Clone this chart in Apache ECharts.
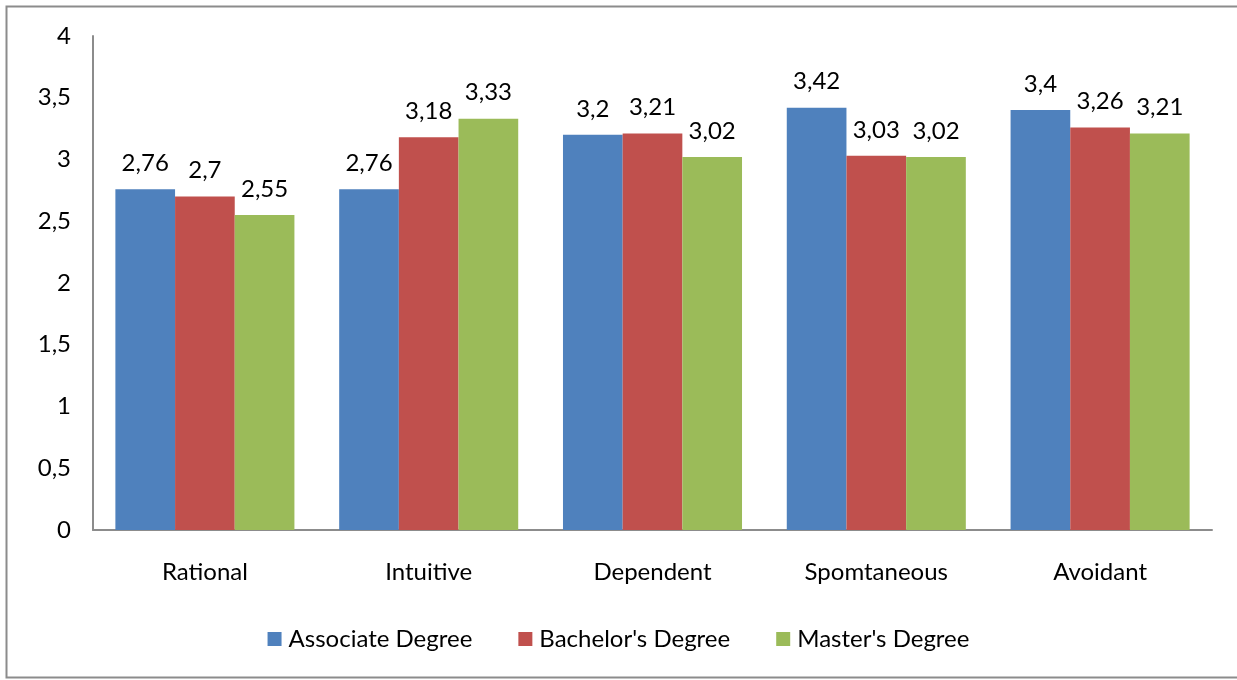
<!DOCTYPE html>
<html>
<head>
<meta charset="utf-8">
<script src="https://cdn.jsdelivr.net/npm/echarts@6/dist/echarts.min.js"></script>
<style>
  html, body { margin: 0; padding: 0; background: #fff; }
  #chart { width: 1237px; height: 680px; }
</style>
</head>
<body>
<div id="chart"></div>
<script>
  const categories = ['Rational', 'Intuitive', 'Dependent', 'Spomtaneous', 'Avoidant'];
  const associate = [2.76, 2.76, 3.2, 3.42, 3.4];
  const bachelor = [2.7, 3.18, 3.21, 3.03, 3.26];
  const master = [2.55, 3.33, 3.02, 3.02, 3.21];
  const seriesNames = ['Associate Degree', "Bachelor's Degree", "Master's Degree"];

  const font = 'Lato';
  const fs = 24;
  const comma = v => String(v).replace('.', ',');

  const myChart = echarts.init(document.getElementById('chart'));

  function makeSeries(name, data, color) {
    return {
      name: name,
      type: 'bar',
      data: data,
      barGap: '0%',
      barCategoryGap: '20%',
      itemStyle: { color: color },
      label: {
        show: true,
        position: 'top',
        distance: 14,
        color: '#000',
        fontFamily: font,
        fontSize: fs,
        formatter: p => comma(p.value)
      }
    };
  }

  myChart.setOption({
    animation: false,
    graphic: [{
      type: 'rect',
      shape: { x: 6.5, y: 6.5, width: 1240, height: 671 },
      style: { fill: 'none', stroke: '#8c8c8c', lineWidth: 2 }
    }],
    grid: { left: 93, right: 25, top: 36, bottom: 150 },
    legend: {
      bottom: 24,
      left: 'center',
      itemWidth: 14,
      itemHeight: 14,
      itemGap: 46,
      icon: 'rect',
      textStyle: { fontFamily: font, fontSize: fs, color: '#000', padding: [0, 0, 0, 2] },
      data: seriesNames
    },
    xAxis: {
      type: 'category',
      data: categories,
      axisLine: { lineStyle: { color: '#8c8c8c', width: 2 } },
      axisTick: { show: false },
      axisLabel: { margin: 30, color: '#000', fontFamily: font, fontSize: fs }
    },
    yAxis: {
      type: 'value',
      min: 0,
      max: 4,
      interval: 0.5,
      splitLine: { show: false },
      axisLine: { show: true, lineStyle: { color: '#8c8c8c', width: 2 } },
      axisTick: { show: false },
      axisLabel: {
        margin: 22,
        color: '#000',
        fontFamily: font,
        fontSize: fs,
        formatter: v => comma(v)
      }
    },
    series: [
      makeSeries(seriesNames[0], associate, '#4F81BD'),
      makeSeries(seriesNames[1], bachelor, '#C0504D'),
      makeSeries(seriesNames[2], master, '#9BBB59')
    ]
  });
</script>
</body>
</html>
